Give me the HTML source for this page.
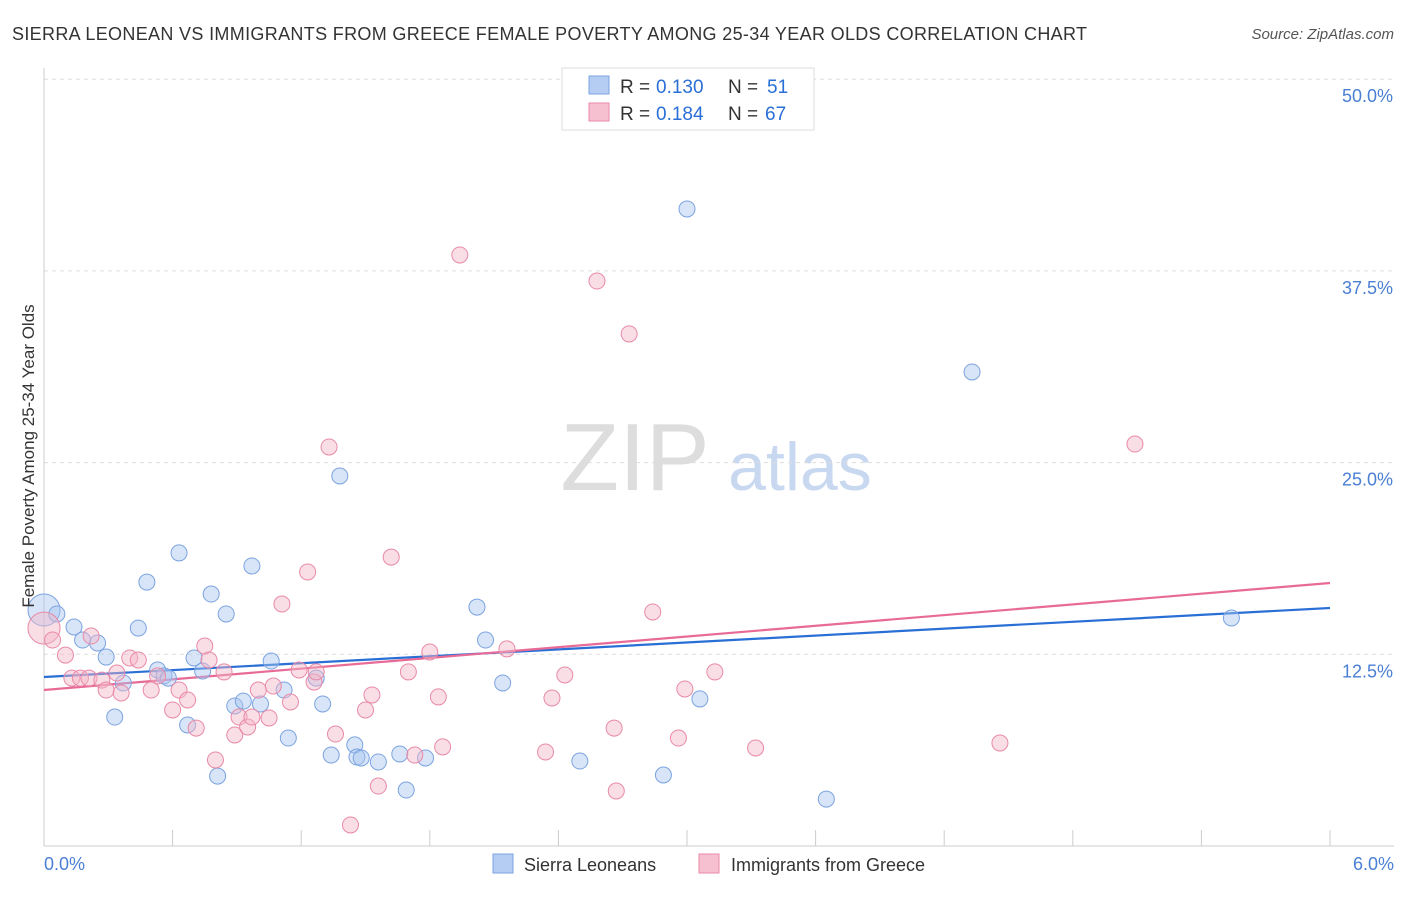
<!DOCTYPE html>
<html><head><meta charset="utf-8"><style>
body{margin:0;background:#fff;font-family:"Liberation Sans",sans-serif}
svg text{font-family:"Liberation Sans",sans-serif}
</style></head><body>
<svg width="1406" height="892" xmlns="http://www.w3.org/2000/svg">
<text x="12" y="40" font-size="18" fill="#333" textLength="1075" lengthAdjust="spacing">SIERRA LEONEAN VS IMMIGRANTS FROM GREECE FEMALE POVERTY AMONG 25-34 YEAR OLDS CORRELATION CHART</text>
<text x="1394" y="39" font-size="15" fill="#555" font-style="italic" text-anchor="end">Source: ZipAtlas.com</text>
<g>
<text x="635" y="490" font-size="96" fill="#ddd" text-anchor="middle" font-family="Liberation Serif,serif">ZIP</text>
<text x="800" y="490" font-size="68" fill="#c8d8f0" text-anchor="middle">atlas</text>
</g>
<g id="grid"></g>
<g id="axes"></g>
<g id="trends"></g>
<g id="points"></g>
<text transform="translate(34,456) rotate(-90)" font-size="17" fill="#333" text-anchor="middle">Female Poverty Among 25-34 Year Olds</text>
<text x="44" y="870" font-size="18" fill="#4a7fd4">0.0%</text>
<text x="1394" y="870" font-size="18" fill="#4a7fd4" text-anchor="end">6.0%</text>
<g>
<rect x="562" y="68" width="252" height="62" fill="#fff" stroke="#ddd"/>
<rect x="589" y="76" width="20" height="18" fill="#b5cdf2" stroke="#7ba3e0"/>
<rect x="589" y="103" width="20" height="18" fill="#f7c0d0" stroke="#e88aa8"/>
<text x="620" y="93" font-size="19" fill="#333">R =</text>
<text x="656" y="93" font-size="19" fill="#2a6fd6">0.130</text>
<text x="728" y="93" font-size="19" fill="#333">N =</text>
<text x="767" y="93" font-size="19" fill="#2a6fd6">51</text>
<text x="620" y="120" font-size="19" fill="#333">R =</text>
<text x="656" y="120" font-size="19" fill="#2a6fd6">0.184</text>
<text x="728" y="120" font-size="19" fill="#333">N =</text>
<text x="765" y="120" font-size="19" fill="#2a6fd6">67</text>
</g>
<g>
<rect x="493" y="854" width="20" height="19" fill="#b5cdf2" stroke="#7ba3e0"/>
<text x="524" y="871" font-size="18" fill="#333">Sierra Leoneans</text>
<rect x="699" y="854" width="20" height="19" fill="#f7c0d0" stroke="#e88aa8"/>
<text x="731" y="871" font-size="18" fill="#333">Immigrants from Greece</text>
</g>
</svg>
<script>
const yTicks=[12.5,25,37.5,50];
const yTickLabels=["12.5%","25.0%","37.5%","50.0%"];
const xTicks=[0,0.6,1.2,1.8,2.4,3.0,3.6,4.2,4.8,5.4,6.0];
const blueX=[0.00,0.06,0.14,0.18,0.25,0.29,0.33,0.37,0.44,0.48,0.53,0.56,0.58,0.63,0.67,0.70,0.74,0.78,0.81,0.85,0.89,0.93,0.97,1.01,1.06,1.12,1.14,1.27,1.30,1.34,1.38,1.45,1.46,1.48,1.56,1.66,1.69,1.78,2.02,2.06,2.14,2.50,2.89,3.00,3.06,3.65,4.33,5.54];
const blueY=[15.39,15.13,14.28,13.43,13.24,12.32,8.41,10.63,14.21,17.21,11.48,11.09,10.95,19.11,7.89,12.26,11.41,16.43,4.56,15.13,9.13,9.45,18.26,9.26,12.06,10.17,7.04,10.95,9.26,5.93,24.13,6.59,5.80,5.74,5.48,6.00,3.65,5.74,15.58,13.43,10.63,5.54,4.63,41.54,9.59,3.06,30.91,14.87];
const pinkX=[0.00,0.04,0.10,0.13,0.17,0.21,0.22,0.27,0.29,0.34,0.36,0.40,0.44,0.50,0.53,0.60,0.63,0.67,0.71,0.75,0.77,0.80,0.84,0.89,0.91,0.95,0.97,1.00,1.05,1.07,1.11,1.15,1.19,1.23,1.26,1.27,1.33,1.36,1.43,1.50,1.53,1.56,1.62,1.70,1.73,1.80,1.84,1.86,1.94,2.16,2.34,2.37,2.43,2.58,2.66,2.67,2.73,2.84,2.96,2.99,3.13,3.32,4.46,5.09];
const pinkY=[14.21,13.43,12.45,10.95,10.95,10.95,13.69,10.82,10.17,11.28,9.98,12.26,12.13,10.17,11.09,8.87,10.17,9.52,7.69,13.04,12.13,5.61,11.35,7.24,8.41,7.76,8.41,10.17,8.35,10.43,15.78,9.39,11.48,17.87,10.69,11.35,26.02,7.30,1.37,8.87,9.85,3.91,18.84,11.35,5.93,12.65,9.72,6.46,38.54,12.85,6.13,9.65,11.15,36.84,7.69,3.59,33.39,15.26,7.04,10.24,11.35,6.39,6.72,26.21];
const blueTrend=[11.02,15.52];
const pinkTrend=[10.17,17.15];
const NS="http://www.w3.org/2000/svg";
const sx=v=>44+v/6*1286;
const sy=v=>846-v*15.336;
function mk(tag,attrs,parent){const e=document.createElementNS(NS,tag);for(const k in attrs)e.setAttribute(k,attrs[k]);document.getElementById(parent).appendChild(e);return e;}
yTicks.forEach((t,i)=>{
 const l=mk('line',{x1:44,x2:1394,y1:sy(t),y2:sy(t),stroke:'#ddd','stroke-dasharray':'4,4'},'grid');
 
 
 const tx=mk('text',{x:1393,y:sy(t)+23,'font-size':18,fill:'#4a7fd4','text-anchor':'end'},'grid');
 tx.textContent=yTickLabels[i];
 
 
});
const ya=mk('line',{x1:44,x2:44,y1:68,y2:846,stroke:'#ccc'},'axes');


const xa=mk('line',{x1:44,x2:1394,y1:846,y2:846,stroke:'#ccc'},'axes');


xTicks.forEach(t=>{
 const l=mk('line',{x1:sx(t),x2:sx(t),y1:830,y2:846,stroke:'#ccc'},'axes');
 
 
});
function dots(X,Y,fill,stroke,name){
 X.forEach((x,i)=>{
  const c=mk('circle',{cx:sx(x),cy:sy(Y[i]),r:i===0?16:8,fill:fill,'fill-opacity':0.45,stroke:stroke,'stroke-width':1},'points');
  
  
 });
}
dots(blueX,blueY,'#a9c5ef','#7ba3e0','sierra-point');
dots(pinkX,pinkY,'#f5b5c8','#e88aa8','greece-point');
const bt=mk('line',{x1:sx(0),x2:sx(6),y1:sy(blueTrend[0]),y2:sy(blueTrend[1]),stroke:'#2a6fd6','stroke-width':2.2},'trends');


const pt=mk('line',{x1:sx(0),x2:sx(6),y1:sy(pinkTrend[0]),y2:sy(pinkTrend[1]),stroke:'#e86a96','stroke-width':2.2},'trends');


</script>
</body></html>
